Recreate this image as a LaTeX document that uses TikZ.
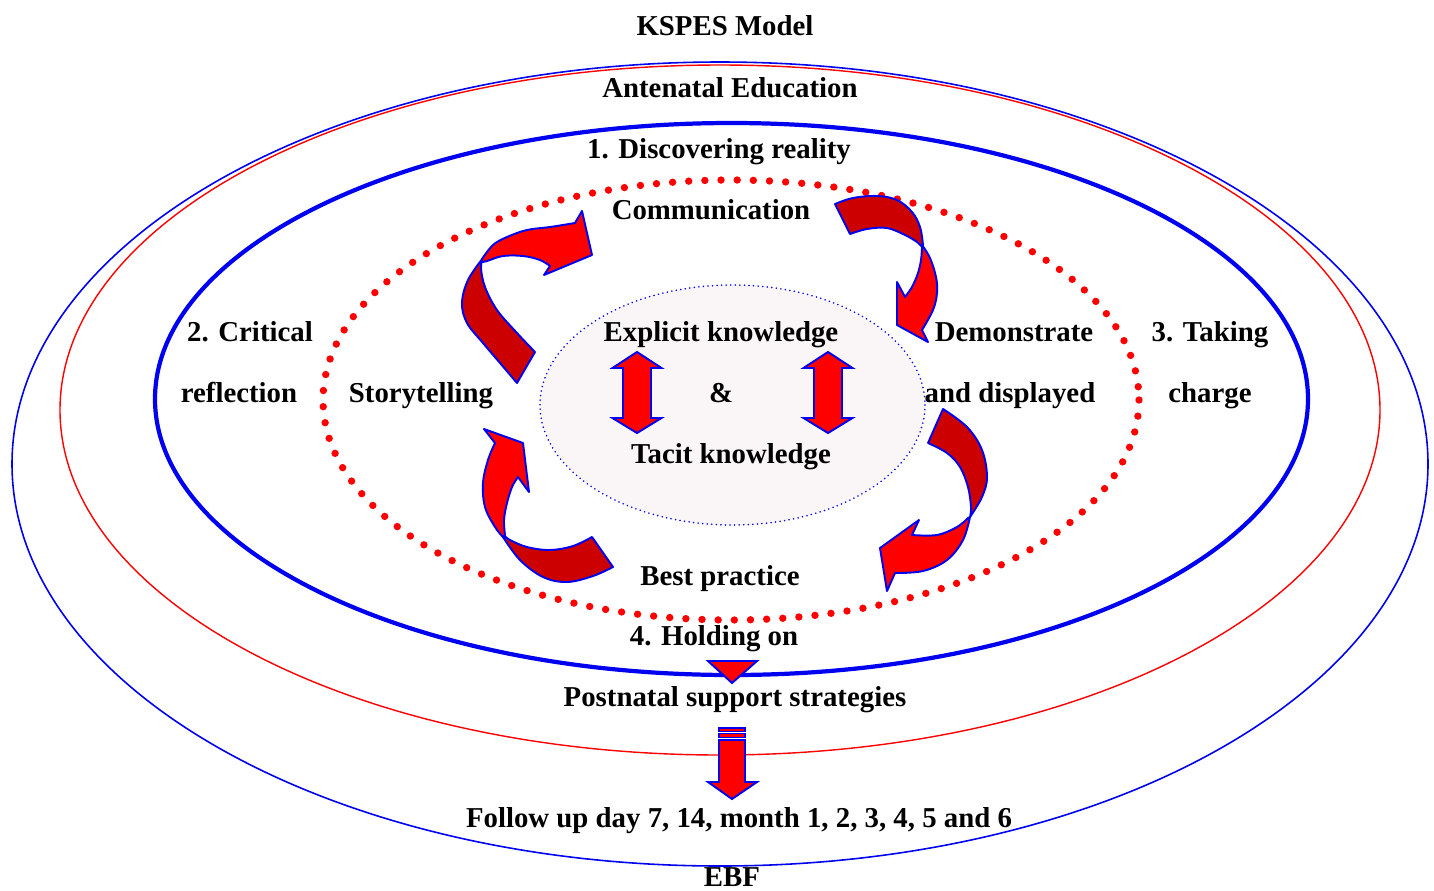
\documentclass[tikz,border=0pt]{standalone}
\usepackage{fontspec}
\setmainfont{Liberation Serif}
\definecolor{ringblue}{RGB}{0,0,240}
\definecolor{ringred}{RGB}{255,0,0}
\definecolor{lightred}{RGB}{255,0,0}
\definecolor{deepred}{RGB}{204,0,0}
\definecolor{corefill}{RGB}{250,245,247}
\begin{document}
\begin{tikzpicture}[x=0.02cm,y=-0.02cm,
  lbl/.style={font=\fontsize{16.4}{19}\selectfont\bfseries, inner sep=0pt, anchor=base},
  shapeout/.style={draw=ringblue, line width=1.1pt, line join=round},
  lightpart/.style={shapeout, fill=lightred},
  darkpart/.style={shapeout, fill=deepred},
  sm/.style={smooth, tension=0.6}]
\useasboundingbox (0,0) rectangle (1434,890);

% nested rings
\draw[ringblue, line width=0.9pt] (720,464) ellipse [x radius=708, y radius=402];
\draw[ringred, line width=0.8pt] (720,410) ellipse [x radius=660, y radius=345];
\draw[ringblue, line width=2.4pt] (731.5,399) ellipse [x radius=576.5, y radius=276];
\draw[ringred, line width=4.2pt, line cap=round, dash pattern=on 0pt off 9.2pt]
  (731,400) ellipse [x radius=408, y radius=220];
\draw[ringblue, fill=corefill, line width=1pt, line cap=round, dash pattern=on 0pt off 2.6pt]
  (732.5,405) ellipse [x radius=192.5, y radius=120];

% curved arrow, upper left
\path[darkpart] plot[sm] coordinates {(483,258) (468,280) (462,303) (467,323) (483,343) (500,363) (517,383)}
  -- (535,352) -- plot[sm] coordinates {(535,352) (517,333) (497,310) (485,287) (481,268) (483,258)} -- cycle;
\path[lightpart] plot[sm] coordinates {(482,259) (493,245) (507,237) (527,230) (550,227) (575,223)}
  -- (582,211) -- (592,255) -- (544,275) -- (550,266)
  -- plot[sm] coordinates {(550,266) (540,260) (523,256) (503,256) (487,261) (482,262)} -- cycle;

% curved arrow, upper right
\path[darkpart] plot[sm] coordinates {(835,204) (853,198) (877,196) (897,200) (912,212) (920,227) (923,245)}
  -- plot[sm] coordinates {(922,247) (917,242) (905,235) (887,228) (867,229) (850,234)} -- cycle;
\path[lightpart] plot[sm] coordinates {(922,245) (930,258) (936,277) (937,293) (933,310) (922,330)}
  -- (928,342) -- (897,325) -- (897,282) -- (905,297)
  -- plot[sm] coordinates {(905,297) (912,287) (918,273) (921,260) (922,248)} -- cycle;

% curved arrow, lower left
\path[darkpart] plot[sm] coordinates {(503,537) (520,560) (543,577) (567,582) (593,576) (613,567)}
  -- (592,537) -- plot[sm] coordinates {(592,537) (573,546) (550,550) (527,547) (510,540) (505,536)} -- cycle;
\path[lightpart] (484,429) -- (523,443) -- (529,492) -- (518,477)
  -- plot[sm] coordinates {(518,477) (512,487) (507,503) (504,520) (505,535)}
  -- plot[sm] coordinates {(503,537) (495,527) (485,507) (483,483) (488,460) (495,443)} -- cycle;

% curved arrow, lower right
\path[darkpart] plot[sm] coordinates {(943,409) (967,427) (982,450) (987,477) (982,497) (970,517)}
  -- plot[sm] coordinates {(970,517) (971,507) (968,487) (960,467) (947,453) (928,443)} -- cycle;
\path[lightpart] plot[sm] coordinates {(970,517) (963,540) (947,560) (923,571) (895,573)}
  -- (887,591) -- (880,548) -- (919,520) -- (912,535)
  -- plot[sm] coordinates {(912,535) (937,535) (957,527) (968,518)} -- cycle;

% two-headed arrows in the core
\foreach \c in {637,828}{
  \path[lightpart, line join=miter] (\c-24.5,368) -- (\c,352) -- (\c+24.5,368) -- (\c+14,368) -- (\c+14,418)
    -- (\c+24.5,418) -- (\c,433) -- (\c-24.5,418) -- (\c-14,418) -- (\c-14,368) -- cycle;
}

% down pointers
\path[lightpart, line join=miter] (708,661) -- (757,661) -- (732,683) -- cycle;
\path[lightpart, line join=miter] (719,728) rectangle (745,731.5);
\path[lightpart, line join=miter] (719,733.5) rectangle (745,737.5);
\path[lightpart, line join=miter] (719,740) -- (745,740) -- (745,782) -- (757,782) -- (732,799)
  -- (708,782) -- (719,782) -- cycle;

% labels
\node[lbl] (title) at (725,35) {KSPES Model};
\node[lbl] (ante) at (730,97) {Antenatal Education};
\node[lbl] (disc) at (719,158) {1. Discovering reality};
\node[lbl] (comm) at (711,219) {Communication};
\node[lbl] (crit) at (250,341) {2. Critical};
\node[lbl] (refl) at (239,402) {reflection};
\node[lbl] (story) at (421,402) {Storytelling};
\node[lbl] (expl) at (721,341) {Explicit knowledge};
\node[lbl] (amp) at (721,402) {\&};
\node[lbl] (tacit) at (731,463) {Tacit knowledge};
\node[lbl] (demo) at (1014,341) {Demonstrate};
\node[lbl] (disp) at (1010,402) {and displayed};
\node[lbl] (take) at (1210,341) {3. Taking};
\node[lbl] (charge) at (1210,402) {charge};
\node[lbl] (best) at (720,585) {Best practice};
\node[lbl] (hold) at (714,645) {4. Holding on};
\node[lbl] (post) at (735,706) {Postnatal support strategies};
\node[lbl] (follow) at (739,827) {Follow up day 7, 14, month 1, 2, 3, 4, 5 and 6};
\node[lbl] (ebf) at (732,886) {EBF};
\end{tikzpicture}
\end{document}
